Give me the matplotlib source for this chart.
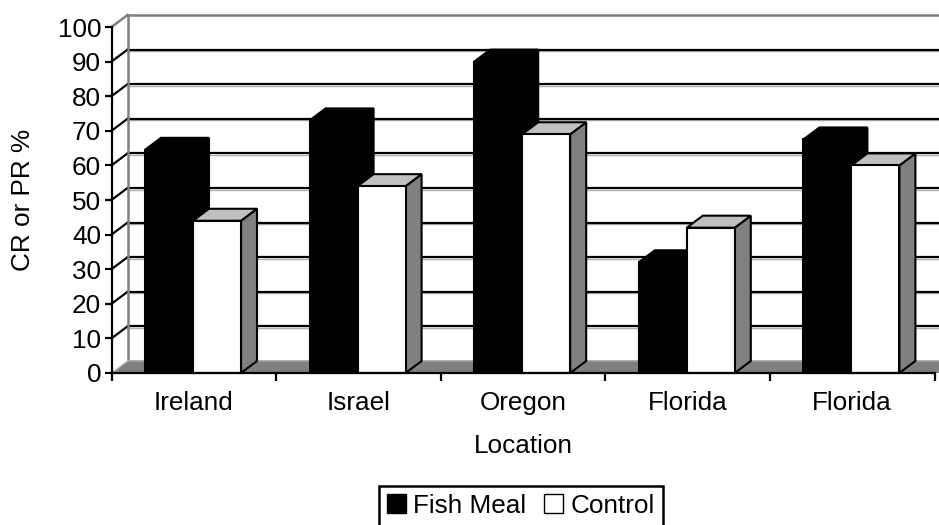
import matplotlib
matplotlib.use("Agg")
import matplotlib.pyplot as plt
from matplotlib.patches import Patch, Polygon, Rectangle

plt.rcParams['font.family'] = ['Liberation Sans', 'DejaVu Sans']

locations = ['Ireland', 'Israel', 'Oregon', 'Florida', 'Florida']
fish_meal = [64.5, 73, 90, 32, 67.5]
control = [44, 54, 69, 42, 60]
y_ticks = list(range(0, 101, 10))

W, H = 939, 525
FS = 18.8
fig = plt.figure(figsize=(W / 100, H / 100), dpi=100)
L, R, T, B = 111.5, 934.5, 27.0, 373.0
ax = fig.add_axes([L / W, 1 - B / H, (R - L) / W, (B - T) / H])
ax.set_xlim(0, 5)
ax.set_ylim(0, 100)
ax.patch.set_visible(False)

DX = 16 / ((R - L) / 5)      # depth in category units
DY = 12 / ((B - T) / 100)    # depth in value units
BAR = 48 / ((R - L) / 5)
GAP = 33.5 / ((R - L) / 5)
GREY = '#808080'
LIGHT = '#c0c0c0'
XEND = 5.2

# back wall and side wall
for v in y_ticks[1:-1]:
    ax.plot([DX, XEND], [v + DY - 0.45, v + DY - 0.45], color='#b0b0b0', lw=1, clip_on=False, zorder=1)
    ax.plot([DX, XEND], [v + DY, v + DY], color='black', lw=1.6, clip_on=False, zorder=1.1)
    ax.plot([0, DX], [v, v + DY], color='black', lw=1.6, clip_on=False, zorder=1.1)
ax.plot([DX, XEND], [100 + DY, 100 + DY], color=GREY, lw=1.8, clip_on=False, zorder=1.2)
ax.plot([DX, DX], [DY, 100 + DY], color=GREY, lw=1.8, clip_on=False, zorder=1.2)
ax.plot([0, DX], [100, 100 + DY], color=GREY, lw=1.8, clip_on=False, zorder=1.2)

# floor
ax.add_patch(Polygon([(0, 0), (DX, DY), (XEND, DY), (XEND, 0)], closed=True,
                     facecolor=GREY, edgecolor='none', clip_on=False, zorder=1.3))
ax.plot([DX, XEND], [DY, DY], color='#a0a0a0', lw=1.2, clip_on=False, zorder=1.4)
ax.plot([0, DX], [0, DY], color=LIGHT, lw=1, clip_on=False, zorder=1.4)


def bar3d(x, v, fc, side, top, ec, z):
    ax.add_patch(Polygon([(x + BAR, 0), (x + BAR + DX, DY), (x + BAR + DX, v + DY), (x + BAR, v)],
                         closed=True, facecolor=side, edgecolor=ec, lw=1.5, clip_on=False, zorder=z))
    ax.add_patch(Polygon([(x, v), (x + DX, v + DY), (x + BAR + DX, v + DY), (x + BAR, v)],
                         closed=True, facecolor=top, edgecolor=ec, lw=1.5, clip_on=False, zorder=z))
    ax.add_patch(Rectangle((x, 0), BAR, v, facecolor=fc, edgecolor=ec, lw=1.5, clip_on=False, zorder=z + 0.1))


for i, (f, c) in enumerate(zip(fish_meal, control)):
    bar3d(i + GAP, f, 'black', 'black', 'black', 'black', 2 + i)
    bar3d(i + GAP + BAR, c, 'white', GREY, LIGHT, 'black', 2.5 + i)

# axes
for s in ('top', 'right'):
    ax.spines[s].set_visible(False)
for s in ('left', 'bottom'):
    ax.spines[s].set_linewidth(1.6)
    ax.spines[s].set_zorder(20)
ax.set_yticks(y_ticks)
ax.set_xticks(range(6))
ax.set_xticklabels([])
ax.set_xticks([i + 0.5 for i in range(5)], minor=True)
ax.set_xticklabels(locations, minor=True, fontsize=FS)
ax.tick_params(axis='x', which='minor', length=0, pad=13)
ax.tick_params(axis='x', which='major', length=6, width=1.6)
ax.tick_params(axis='y', length=5, width=1.6, labelsize=FS, pad=2.5)

fig.text(23 / W, 1 - 200 / H, 'CR or PR %', rotation=90, fontsize=FS, ha='center', va='center')
fig.text(523 / W, 1 - 446 / H, 'Location', fontsize=FS, ha='center', va='center')

handles = [Patch(facecolor='black', edgecolor='black', label='Fish Meal'),
           Patch(facecolor='white', edgecolor='black', label='Control')]
leg = fig.legend(handles=handles, ncol=2, loc='upper left', bbox_to_anchor=(379 / W, 1 - 486 / H),
                 fontsize=FS, frameon=True, fancybox=False, framealpha=1, edgecolor='black',
                 handlelength=0.73, handleheight=0.73, handletextpad=0.27, columnspacing=0.7,
                 borderpad=0.3, borderaxespad=0)
leg.get_frame().set_linewidth(1.8)

fig.savefig('out.png', dpi=100)
